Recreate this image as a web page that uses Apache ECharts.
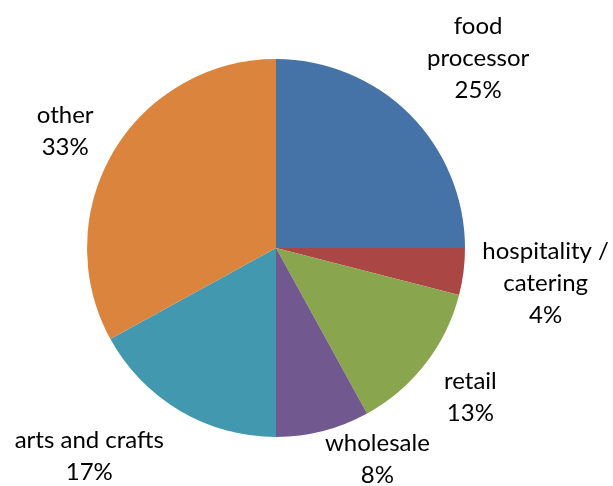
<!DOCTYPE html>
<html>
<head>
<meta charset="utf-8">
<script src="https://cdn.jsdelivr.net/npm/echarts@6/dist/echarts.min.js"></script>
<style>html,body{margin:0;padding:0;background:#fff;}#chart{width:613px;height:486px;}</style>
</head>
<body>
<div id="chart"></div>
<script>
const categories = ['food\nprocessor', 'hospitality /\ncatering', 'retail', 'wholesale', 'arts and crafts', 'other'];
const values = [25, 4, 13, 8, 17, 33];
const colors = ['#4572A7', '#AA4643', '#89A54E', '#71588F', '#4198AF', '#DB843D'];

const total = values.reduce((a, b) => a + b, 0);
const cx = 276, cy = 248, R = 189, gap = 14;
// label nudges (styling adjustments, px)
const nudges = [[9,3],[0,1],[2,0],[40,-28],[-50,-23],[-1,7]];

function midAngle(i) {
  let s = 0;
  for (let k = 0; k < i; k++) s += values[k];
  return ((s + values[i] / 2) / total) * 2 * Math.PI; // clockwise from top
}

const chart = echarts.init(document.getElementById('chart'), null, {renderer: 'canvas'});
chart.setOption({
  animation: false,
  series: [{
    type: 'pie',
    center: [cx, cy],
    radius: R,
    startAngle: 90,
    clockwise: true,
    data: categories.map((c, i) => ({name: c, value: values[i], itemStyle: {color: colors[i]}})),
    label: {
      show: true,
      position: 'outside',
      alignTo: 'none',
      overflow: 'none',
      formatter: p => p.name + '\n' + Math.round(p.value / total * 100) + '%',
      fontFamily: 'Lato',
      fontSize: 24,
      lineHeight: 32,
      color: '#000',
      align: 'center'
    },
    labelLine: {show: false},
    labelLayout: function (params) {
      const i = params.dataIndex;
      const a = midAngle(i);
      const ux = Math.sin(a), uy = -Math.cos(a);
      const w = params.labelRect.width / 2, h = params.labelRect.height / 2;
      const d = R + gap + w * Math.abs(ux) + h * Math.abs(uy);
      return {
        x: cx + d * ux + nudges[i][0],
        y: cy + d * uy + nudges[i][1],
        align: 'center',
        verticalAlign: 'middle'
      };
    },
    itemStyle: {borderWidth: 0}
  }]
});
</script>
</body>
</html>
